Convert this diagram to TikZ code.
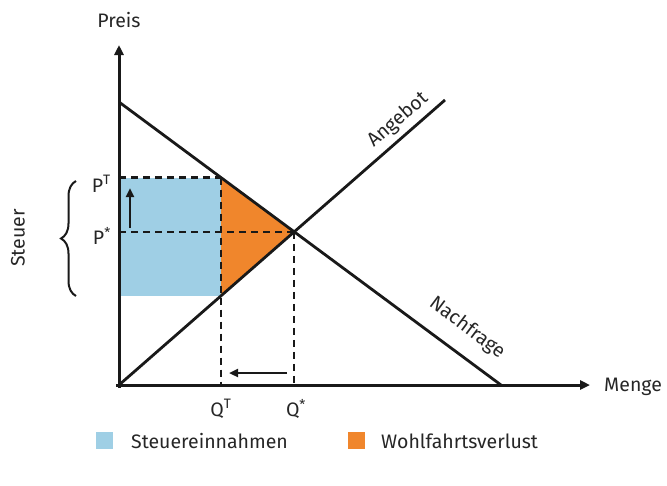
\documentclass[tikz,border=0pt]{standalone}
\usepackage{fontspec}
\setmainfont{Fira Sans}
\usetikzlibrary{arrows.meta,decorations.pathreplacing,calc}
\definecolor{taxblue}{HTML}{9FCFE5}
\definecolor{dwlorange}{HTML}{F0862C}
\begin{document}
\begin{tikzpicture}[x=1pt,y=-1pt,
  curve/.style={line width=2.8pt,color=black!90},
  axis/.style={line width=3pt,color=black!90,-{Triangle[length=10pt,width=9pt]}},
  dashline/.style={line width=2.2pt,dash pattern=on 7pt off 5pt,color=black!90},
  mover/.style={line width=2.8pt,color=black!90,-{Triangle[length=9pt,width=8pt]}},
  lab/.style={font=\fontsize{19.5}{22}\selectfont,text=black!85,inner sep=0pt},
  sup/.style={font=\fontsize{11}{12}\selectfont}]
\useasboundingbox (0,0) rectangle (667,485);
% key points
\coordinate (O) at (119,385);
\coordinate (D1) at (119,102);
\coordinate (D2) at (501,385);
\coordinate (S2) at (445,100);
\coordinate (E) at (intersection of D1--D2 and O--S2);
\coordinate (DT) at (intersection of D1--D2 and 221,0--221,400);
\coordinate (ST) at (intersection of O--S2 and 221,0--221,400);
\coordinate (PT) at (119,0 |- DT);
\coordinate (PS) at (119,0 |- E);
\coordinate (PL) at (119,0 |- ST);
\coordinate (QT) at (DT |- O);
\coordinate (QS) at (E |- O);
% areas
\fill[taxblue] (PT) rectangle (ST);
\fill[dwlorange] (DT) -- (E) -- (ST) -- cycle;
% dashed lines
\draw[dashline] (PT) -- (DT);
\draw[dashline] (PS) -- (E);
\draw[dashline] (DT) -- (QT);
\draw[dashline] (E) -- (QS);
% curves
\draw[curve] (D1) -- (D2);
\draw[curve] (O) -- (S2);
% axes
\draw[axis] (119,388) -- (119,45) coordinate (ytip);
\draw[axis] (116,385) -- (590,385) coordinate (xtip);
% arrows
\draw[mover] (130,228) -- (130,188);
\draw[mover] (287,373) -- (229,373);
% labels
\node[lab] (preis) at (119,20) {Preis};
\node[lab,anchor=west] (menge) at (604,387) {Menge};
\node[lab,anchor=east] (pt) at (111,184) {P\textsuperscript{T}};
\node[lab,anchor=east] (ps) at (111,236) {P\textsuperscript{*}};
\node[lab] (qt) at (221,409) {Q\textsuperscript{T}};
\node[lab] (qs) at (296,409) {Q\textsuperscript{*}};
\node[lab,rotate=41] (angebot) at (398,120) {Angebot};
\node[lab,rotate=-37] (nachfrage) at (467,328) {Nachfrage};
% brace
\draw[line width=2pt,color=black!90,decorate,decoration={brace,amplitude=15pt}]
  (76,296) -- (76,181);
\node[lab,rotate=90] (steuer) at (18,238) {Steuer};
% legend
\fill[taxblue] (96,432) rectangle (113,449);
\node[lab,anchor=west] (l1) at (131,441) {Steuereinnahmen};
\fill[dwlorange] (348,432) rectangle (365,449);
\node[lab,anchor=west] (l2) at (381,441) {Wohlfahrtsverlust};
\end{tikzpicture}
\end{document}
